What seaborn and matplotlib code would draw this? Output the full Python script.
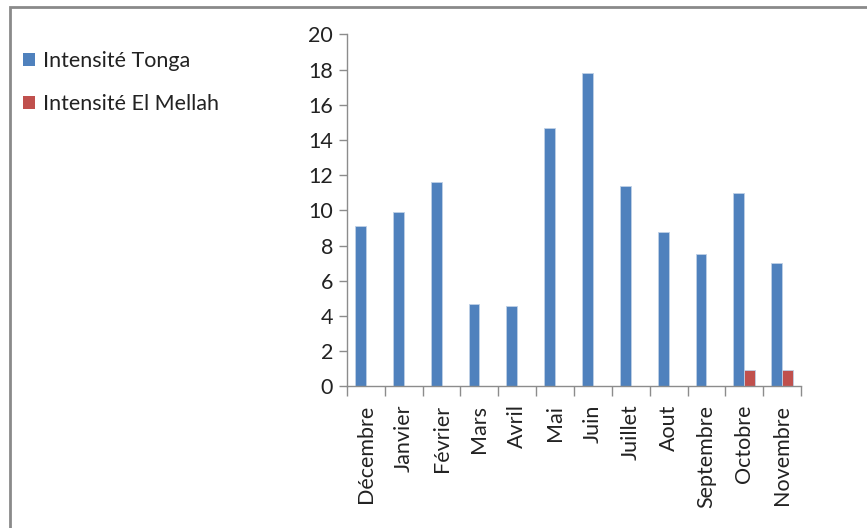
import matplotlib
matplotlib.use("Agg")
import matplotlib.pyplot as plt
import matplotlib.patches as mpatches
from matplotlib.ticker import FixedLocator
import seaborn as sns
import pandas as pd
import numpy as np

months = ["Décembre", "Janvier", "Février", "Mars", "Avril", "Mai", "Juin",
          "Juillet", "Aout", "Septembre", "Octobre", "Novembre"]
tonga = [9.1, 9.9, 11.6, 4.7, 4.6, 14.7, 17.8, 11.4, 8.75, 7.55, 11.0, 7.0]
el_mellah = [0, 0, 0, 0, 0, 0, 0, 0, 0, 0, 0.95, 0.95]
series = ["Intensité Tonga", "Intensité El Mellah"]
colors = ["#4F81BD", "#C0504D"]

df = pd.DataFrame({
    "mois": months * 2,
    "valeur": tonga + el_mellah,
    "serie": [series[0]] * len(months) + [series[1]] * len(months),
})

sns.set_theme(style="white")
plt.rcParams["font.family"] = ["Lato", "DejaVu Sans"]

fig = plt.figure(figsize=(8.67, 5.28), dpi=100)
ax = fig.add_axes([0.4002, 0.268, 0.5237, 0.6667])

sns.barplot(data=df, x="mois", y="valeur", hue="serie", order=months,
            hue_order=series, palette=colors, width=0.57, saturation=1,
            edgecolor="#BFD0E6", linewidth=0.6, ax=ax, legend=False)

ax.set_xlim(-0.5, len(months) - 0.5)
ax.set_ylim(0, 20)
ax.set_yticks(np.arange(0, 21, 2))
ax.set_xlabel("")
ax.set_ylabel("")

for side in ["top", "right"]:
    ax.spines[side].set_visible(False)
for side in ["left", "bottom"]:
    ax.spines[side].set_color("#8C8C8C")
    ax.spines[side].set_linewidth(1.0)

ax.tick_params(axis="y", which="major", left=True, length=6, width=1,
               color="#8C8C8C", labelsize=15.5, labelcolor="#222222", pad=4)
ax.tick_params(axis="x", which="major", bottom=False, length=0,
               labelsize=15.5, labelcolor="#222222", pad=13)
ax.xaxis.set_minor_locator(FixedLocator(np.arange(-0.5, len(months), 1.0)))
ax.tick_params(axis="x", which="minor", bottom=True, length=7, width=1,
               color="#8C8C8C")
for lbl in ax.get_xticklabels():
    lbl.set_rotation(90)
    lbl.set_va("top")
    lbl.set_ha("center")

handles = [mpatches.Patch(facecolor=c, edgecolor="none") for c in colors]
fig.legend(handles, series, loc="upper left", bbox_to_anchor=(0.004, 0.94),
           frameon=False, fontsize=15.5, labelspacing=1.05, handlelength=0.55,
           handleheight=0.55, handletextpad=0.4, labelcolor="#222222")

# outer chart frame
fig.patches.append(mpatches.Rectangle((0.012, -0.05), 1.05, 1.037,
                                      transform=fig.transFigure, fill=False,
                                      edgecolor="#8A8A8A", linewidth=2.0))

fig.savefig("out.png", dpi=100)
